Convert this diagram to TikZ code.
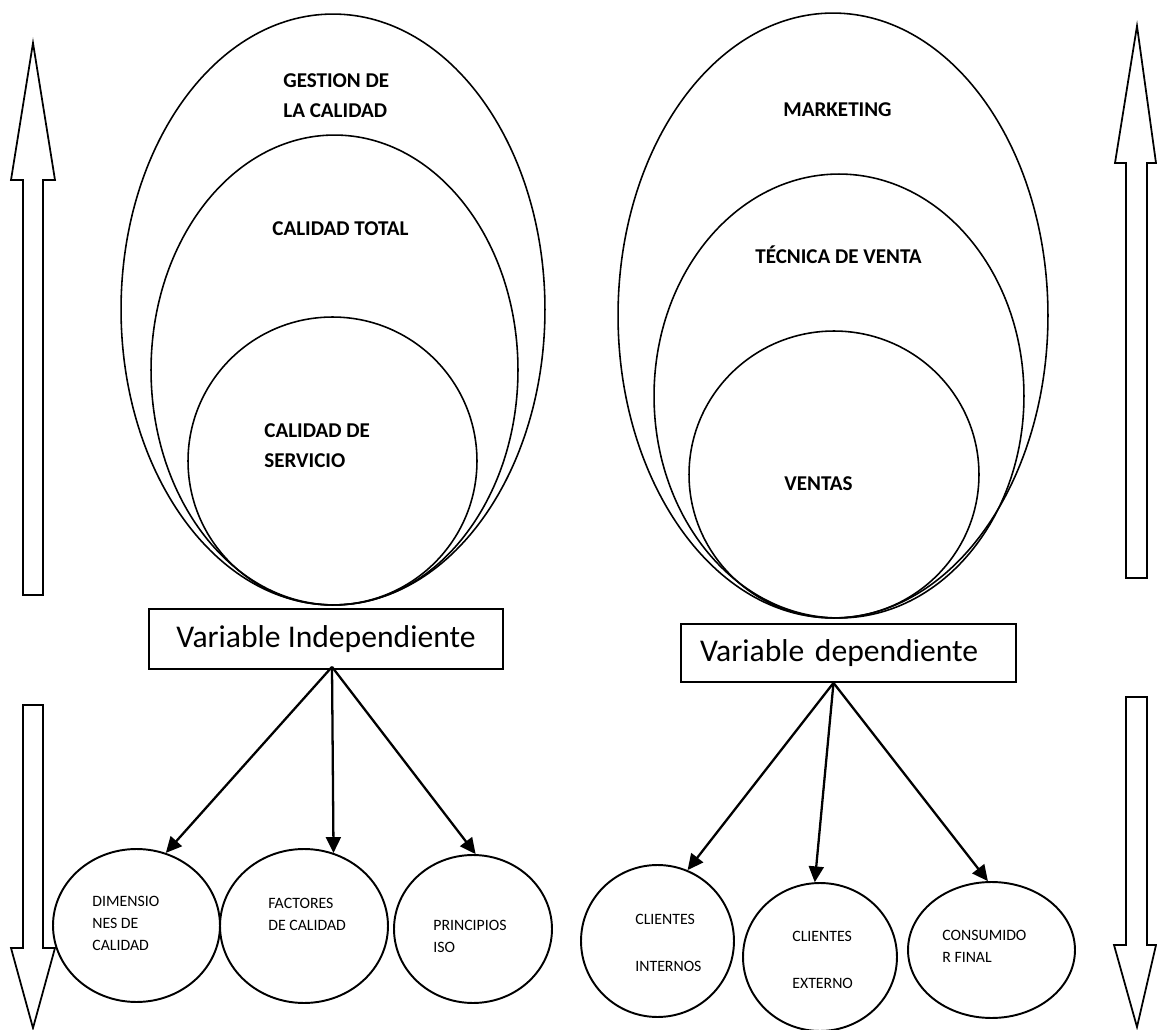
\documentclass[tikz,border=0pt]{standalone}
\usepackage{fontspec}
\setmainfont{Carlito}
\usetikzlibrary{positioning, shapes.geometric, calc, arrows.meta}

\begin{document}
\begin{tikzpicture}[x=0.02cm,y=-0.02cm,
    elip/.style={draw,ellipse,line width=0.9pt,inner sep=0pt},
    hoja/.style={draw,ellipse,line width=1.1pt,inner sep=0pt},
    titulo/.style={font=\fontsize{12}{17}\selectfont\bfseries,align=left,anchor=west,inner sep=0pt},
    texto/.style={font=\fontsize{9}{12.5}\selectfont,align=left,anchor=west,inner sep=0pt},
    caja/.style={draw,line width=1pt,inner sep=0pt,font=\fontsize{18}{22}\selectfont},
    flecha/.style={-{Triangle[length=9pt,width=8.5pt]},line width=1.3pt},
    bloque/.style={draw,line width=1pt,line join=miter}]
  \useasboundingbox (0,0) rectangle (1157,1030);
  % izquierda
  \node[elip,minimum width=8.48cm,minimum height=11.82cm] (gestion) at (333,309.5) {};
  \node[elip,minimum width=7.34cm,minimum height=9.4cm] (total) at (334.5,370) {};
  \node[elip,minimum width=5.78cm,minimum height=5.76cm] (servicio) at (332.5,461) {};
  \node[titulo] (tgestion) at (283,96) {GESTION DE\\LA CALIDAD};
  \node[titulo] (ttotal) at (272,228.5) {CALIDAD TOTAL};
  \node[titulo] (tservicio) at (264,445.5) {CALIDAD DE\\SERVICIO};
  % derecha
  \node[elip,minimum width=8.6cm,minimum height=12.1cm] (marketing) at (833,315.5) {};
  \node[elip,minimum width=7.4cm,minimum height=8.88cm] (tecnica) at (839,396) {};
  \node[elip,minimum width=5.8cm,minimum height=5.74cm] (ventas) at (834,474.5) {};
  \node[titulo] (tmarketing) at (783,110) {MARKETING};
  \node[titulo] (ttecnica) at (755,255) {TÉCNICA DE VENTA};
  \node[titulo] (tventas) at (784,484) {VENTAS};
  % variables
  \node[caja,minimum width=7.08cm,minimum height=1.2cm] (indep) at (326,639) {Variable Independiente};
  \node[caja,minimum width=6.7cm,minimum height=1.16cm,text width=5.94cm,align=left] (dep) at (848.5,653) {Variable dependiente};
  % dimensiones
  \node[hoja,minimum width=3.34cm,minimum height=3.06cm] (dim) at (136.5,925.5) {};
  \node[hoja,minimum width=3.36cm,minimum height=3.08cm] (fact) at (304,926) {};
  \node[hoja,minimum width=3.16cm,minimum height=2.96cm] (prin) at (473,929) {};
  \node[hoja,minimum width=3.06cm,minimum height=3.04cm] (cint) at (657.5,941) {};
  \node[hoja,minimum width=3.08cm,minimum height=2.96cm] (cext) at (820,957) {};
  \node[hoja,minimum width=3.34cm,minimum height=2.72cm] (cons) at (991.5,950) {};
  \node[texto] (tdim) at (92,923) {DIMENSIO\\NES DE\\CALIDAD};
  \node[texto] (tfact) at (268,914) {FACTORES\\DE CALIDAD};
  \node[texto] (tprin) at (433,936) {PRINCIPIOS\\ISO};
  \node[texto] (tcint) at (635,943) {CLIENTES\\[14.7pt]INTERNOS};
  \node[texto] (tcext) at (792,960) {CLIENTES\\[14.7pt]EXTERNO};
  \node[texto] (tcons) at (942,946) {CONSUMIDO\\R FINAL};
  % flechas
  \coordinate (o1) at ($(indep.south)+(6,-3)$);
  \coordinate (o2) at ($(dep.south)+(-15,0)$);
  \draw[flecha] (o1) -- (dim.68.5);
  \draw[flecha] (o1) -- (fact.68);
  \draw[flecha] (o1) -- (prin.88);
  \draw[flecha] (o2) -- (cint.67);
  \draw[flecha] (o2) -- (cext.94);
  \draw[flecha] (o2) -- (cons.93);
  % bloques laterales
  \draw[bloque] (23,595) -- (23,180) -- (11,180) -- (33,43) -- (55,180) -- (43,180) -- (43,595) -- cycle;
  \draw[bloque] (1126,578) -- (1126,163) -- (1115,163) -- (1137,26) -- (1156,163) -- (1147,163) -- (1147,578) -- cycle;
  \draw[bloque] (23,705) -- (23,948) -- (11,948) -- (33,1028) -- (55,948) -- (43,948) -- (43,705) -- cycle;
  \draw[bloque] (1126,697) -- (1126,945) -- (1114,945) -- (1137,1027) -- (1156,945) -- (1147,945) -- (1147,697) -- cycle;
\end{tikzpicture}
\end{document}
